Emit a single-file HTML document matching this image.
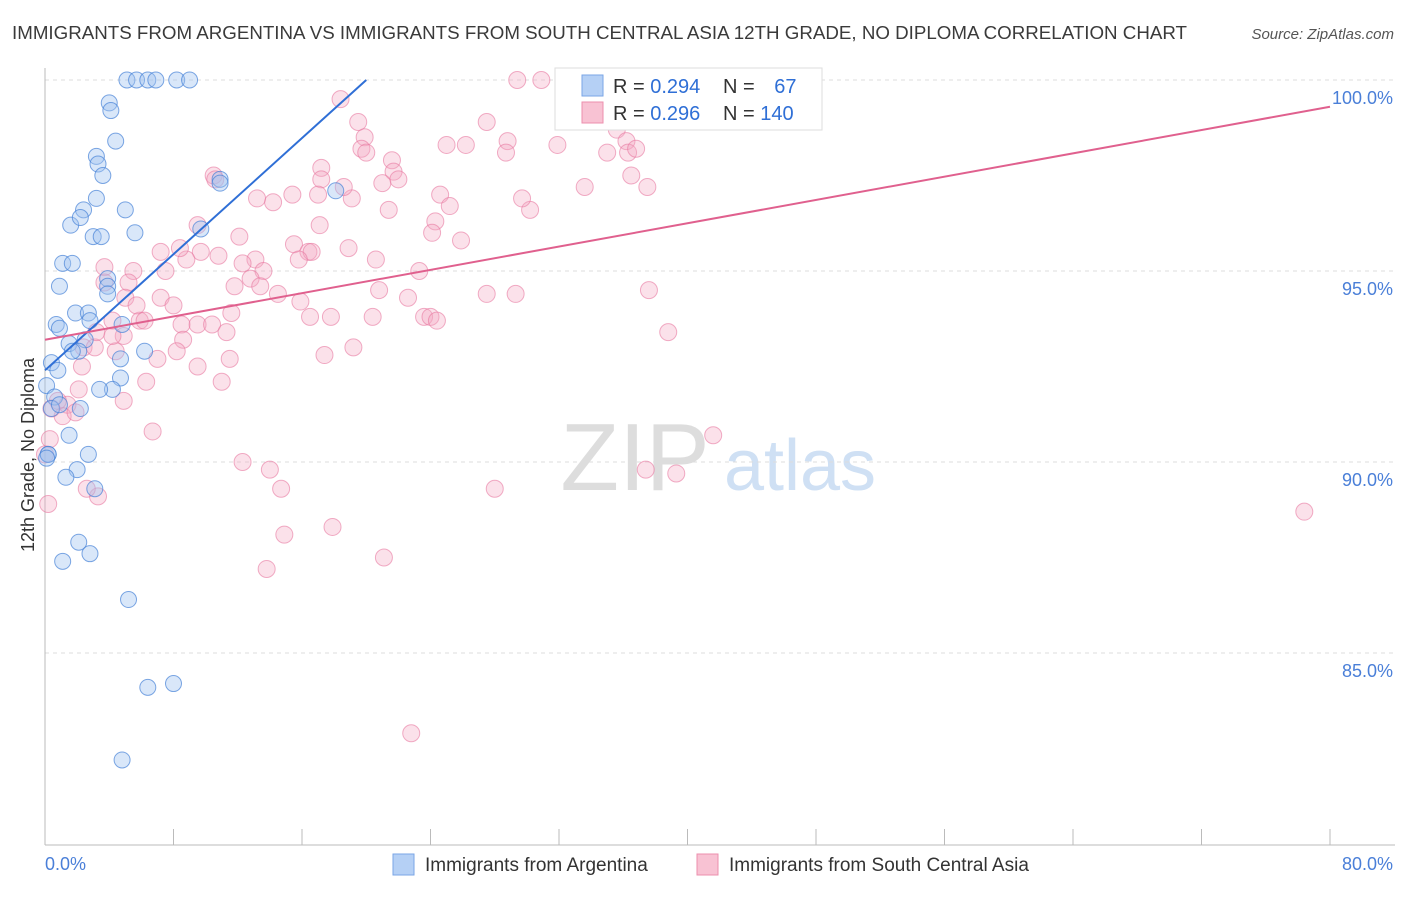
<!DOCTYPE html>
<html><head><meta charset="utf-8"><style>
body{margin:0;background:#fff;font-family:"Liberation Sans",sans-serif;}
svg text{font-family:"Liberation Sans",sans-serif;}
</style></head><body>
<svg id="chart" width="1406" height="892" viewBox="0 0 1406 892" xmlns="http://www.w3.org/2000/svg">
<text x="12" y="39" font-size="18" fill="#3a3a3a" textLength="1175" lengthAdjust="spacingAndGlyphs">IMMIGRANTS FROM ARGENTINA VS IMMIGRANTS FROM SOUTH CENTRAL ASIA 12TH GRADE, NO DIPLOMA CORRELATION CHART</text>
<text x="1394" y="39" font-size="15" fill="#555" text-anchor="end" font-style="italic">Source: ZipAtlas.com</text>
<text transform="translate(34,455) rotate(-90)" font-size="18" fill="#333" text-anchor="middle">12th Grade, No Diploma</text>
<g>
<text x="635" y="490" font-size="96" fill="#ddd" font-family="Liberation Serif" text-anchor="middle">ZIP</text>
<text x="800" y="490" font-size="72" fill="#cfe0f4" text-anchor="middle">atlas</text>
</g>
<g id="grid"></g><g id="axes"></g><g id="pts"></g><g id="lines"></g>
<g>
<rect x="555" y="68" width="267" height="62" fill="#fff" stroke="#ddd"/>
<rect x="582" y="75" width="21" height="21" fill="#b5d0f5" stroke="#7aa6e6"/>
<rect x="582" y="102" width="21" height="21" fill="#f8c2d3" stroke="#ec8fae"/>
<text x="613" y="93" font-size="20" fill="#333">R = <tspan fill="#2f6fd6">0.294</tspan></text>
<text x="723" y="93" font-size="20" fill="#333">N = <tspan fill="#2f6fd6" dx="14">67</tspan></text>
<text x="613" y="120" font-size="20" fill="#333">R = <tspan fill="#2f6fd6">0.296</tspan></text>
<text x="723" y="120" font-size="20" fill="#333">N = <tspan fill="#2f6fd6">140</tspan></text>
</g>
<g>
<rect x="393" y="854" width="21" height="21" fill="#b5d0f5" stroke="#7aa6e6"/>
<text x="425" y="871" font-size="19" fill="#333">Immigrants from Argentina</text>
<rect x="697" y="854" width="21" height="21" fill="#f8c2d3" stroke="#ec8fae"/>
<text x="729" y="871" font-size="19" fill="#333">Immigrants from South Central Asia</text>
</g>
</svg>
<script>
const blueX=[5.1,5.7,6.4,6.9,8.2,9.0,4.0,4.1,4.4,3.2,3.3,3.6,3.2,5.0,2.4,1.6,2.2,3.0,3.5,5.6,1.1,1.7,0.9,3.9,3.9,3.9,1.9,2.7,0.7,0.9,2.8,4.8,2.5,1.5,2.1,1.7,4.7,6.2,0.4,0.8,0.1,4.7,4.2,3.4,0.6,2.2,0.4,1.5,0.2,2.7,2.0,1.3,3.1,2.1,2.8,1.1,5.2,6.4,8.0,4.8,18.1,10.9,10.9,9.7,0.2,0.1,0.9];
const blueY=[100,100,100,100,100,100,99.4,99.2,98.4,98.0,97.8,97.5,96.9,96.6,96.6,96.2,96.4,95.9,95.9,96.0,95.2,95.2,94.6,94.8,94.6,94.4,93.9,93.9,93.6,93.5,93.7,93.6,93.2,93.1,92.9,92.9,92.7,92.9,92.6,92.4,92.0,92.2,91.9,91.9,91.7,91.4,91.4,90.7,90.2,90.2,89.8,89.6,89.3,87.9,87.6,87.4,86.4,84.1,84.2,82.2,97.1,97.4,97.3,96.1,90.2,90.1,91.5];
const pinkX=[29.4,30.9,18.4,19.5,19.9,19.7,20.0,21.6,21.7,22.0,21.0,19.1,21.4,17.2,17.2,18.6,17.0,15.4,14.2,13.2,10.5,10.6,9.5,12.1,9.7,10.8,8.8,7.2,8.4,7.5,3.7,5.5,5.2,3.7,13.1,12.3,13.6,11.8,12.8,13.4,14.5,15.9,15.5,16.4,16.6,15.8,17.1,18.9,20.6,23.3,20.8,22.6,16.5,17.8,20.4,23.6,24.0,24.4,17.4,19.2,26.2,25.0,27.5,28.8,28.7,31.9,35.0,35.6,36.2,36.3,36.8,36.5,37.5,33.6,30.2,29.7,24.6,25.2,24.3,24.1,25.9,27.5,29.3,22.8,21.1,17.9,14.9,13.8,14.7,14.0,12.3,28.0,37.4,39.3,41.6,78.4,38.8,37.6,6.7,4.9,6.3,3.3,2.6,2.1,1.4,0.8,1.1,1.9,2.3,2.4,3.1,4.4,4.9,3.2,4.2,5.9,6.2,7.2,8.0,8.5,8.6,9.5,10.4,11.3,11.6,11.5,11.0,9.5,7.0,8.2,5.0,4.2,0.2,0.3,0.0,0.4,5.7,33.1,33.4];
const pinkY=[100,100,99.5,98.9,98.5,98.2,98.1,97.9,97.6,97.4,97.3,96.9,96.6,97.7,97.4,97.2,97.0,97.0,96.8,96.9,97.5,97.4,96.2,95.9,95.5,95.4,95.3,95.5,95.6,95.0,95.1,95.0,94.7,94.7,95.3,95.2,95.0,94.6,94.8,94.6,94.4,94.2,95.7,95.5,95.5,95.3,96.2,95.6,95.3,95.0,94.5,94.3,93.8,93.8,93.8,93.8,93.8,93.7,92.8,93.0,98.3,98.3,98.9,98.4,98.1,98.3,98.1,98.7,98.4,98.1,98.2,97.5,97.2,97.2,96.6,96.9,97.0,96.7,96.3,96.0,95.8,94.4,94.4,82.9,87.5,88.3,88.1,87.2,89.3,89.8,90.0,89.3,89.8,89.7,90.7,88.7,93.4,94.5,90.8,91.6,92.1,89.1,89.3,91.9,91.5,91.6,91.2,91.3,92.5,93.0,93.0,92.9,93.3,93.4,93.7,93.7,93.7,94.3,94.1,93.6,93.2,93.6,93.6,93.4,93.9,92.7,92.1,92.5,92.7,92.9,94.3,93.3,88.9,90.6,90.2,91.4,94.1,99.0,99.2];
const trendStartX=[0,0];const trendEndX=[20.0,80];
const trendStartY=[92.4,93.2];const trendEndY=[100.0,99.3];
const yTicks=[85,90,95,100];const yTickLabels=["85.0%","90.0%","95.0%","100.0%"];
const xTicks=[0,8,16,24,32,40,48,56,64,72,80];
const NS="http://www.w3.org/2000/svg";
const sx=v=>45+v*(1330-45)/80;
const sy=v=>80+(100-v)*38.2;
function mk(t,a,p){const e=document.createElementNS(NS,t);for(const k in a)e.setAttribute(k,a[k]);p.appendChild(e);return e;}
const grid=document.getElementById('grid'),axes=document.getElementById('axes'),pts=document.getElementById('pts'),lines=document.getElementById('lines');
yTicks.forEach((t,i)=>{
 const l=mk('line',{x1:45,x2:1395,y1:sy(t),y2:sy(t),stroke:'#ddd','stroke-dasharray':'4,4'},grid);
 
 
 const tx=mk('text',{x:1393,y:sy(t)+24,'font-size':18,fill:'#4a7fd8','text-anchor':'end'},axes);
 tx.textContent=yTickLabels[i];
 
 
});
const ax=mk('line',{x1:45,x2:1395,y1:845,y2:845,stroke:'#bbb'},axes);


const ay=mk('line',{x1:45,x2:45,y1:68,y2:845,stroke:'#bbb'},axes);


xTicks.forEach(t=>{
 const l=mk('line',{x1:sx(t),x2:sx(t),y1:829,y2:845,stroke:'#bbb'},axes);
 
 
});
const x0=mk('text',{x:45,y:870,'font-size':18,fill:'#4a7fd8'},axes);x0.textContent='0.0%';


const x1=mk('text',{x:1393,y:870,'font-size':18,fill:'#4a7fd8','text-anchor':'end'},axes);x1.textContent='80.0%';


pinkX.forEach((v,i)=>{
 const c=mk('circle',{cx:sx(v),cy:sy(pinkY[i]),r:8.5,fill:'rgba(244,170,195,0.35)',stroke:'rgba(232,120,160,0.6)','stroke-width':1},pts);
 
 
});
blueX.forEach((v,i)=>{
 const c=mk('circle',{cx:sx(v),cy:sy(blueY[i]),r:8,fill:'rgba(160,195,240,0.4)',stroke:'rgba(70,130,215,0.7)','stroke-width':1},pts);
 
 
});
const cols=['#2f6fd6','#e0608e'],names=['trend-line-argentina','trend-line-south-central-asia'];
trendStartX.forEach((v,i)=>{
 const l=mk('line',{x1:sx(v),y1:sy(trendStartY[i]),x2:sx(trendEndX[i]),y2:sy(trendEndY[i]),stroke:cols[i],'stroke-width':2},lines);
 
 
});
</script>
</body></html>
